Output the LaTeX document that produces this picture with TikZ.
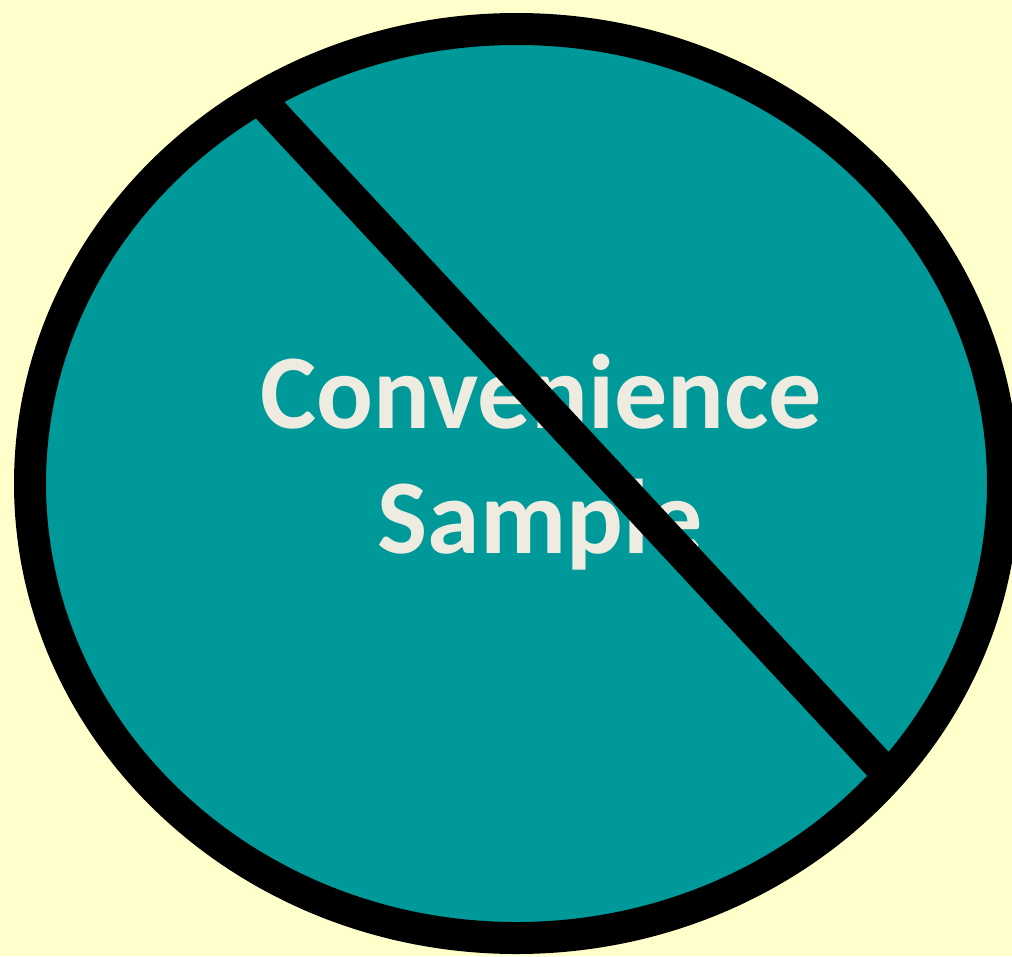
\documentclass[tikz,border=0pt]{standalone}
\usepackage{fontspec}
\setmainfont{Carlito}
\usetikzlibrary{calc}
\definecolor{bg}{HTML}{FFFFCC}
\definecolor{teal2}{HTML}{009999}
\definecolor{txt}{HTML}{EEECE1}
\begin{document}
\begin{tikzpicture}[x=1pt,y=-1pt,
  label/.style={text=txt,font=\fontsize{106}{125}\selectfont\bfseries,inner sep=0pt,anchor=base},
  ring/.style={line width=32pt,draw=black}]
\fill[bg] (0,0) rectangle (1012,956);
\useasboundingbox (0,0) rectangle (1012,956);
\coordinate (c) at (516.5,483.5);
\fill[teal2] (c) ellipse [x radius=486.5,y radius=454.5];
\node[label] (t1) at (541,428) {Convenience};
\node[label] (t2) at (540,553) {Sample};
\coordinate (a) at ($(270,110)!-0.1!(879,765)$);
\coordinate (b) at ($(270,110)!1.1!(879,765)$);
\begin{scope}
\clip (c) ellipse [x radius=486.5,y radius=454.5];
\draw[line width=32pt] (a) -- (b);
\end{scope}
\draw[ring] (c) ellipse [x radius=486.5,y radius=454.5];
\end{tikzpicture}
\end{document}
